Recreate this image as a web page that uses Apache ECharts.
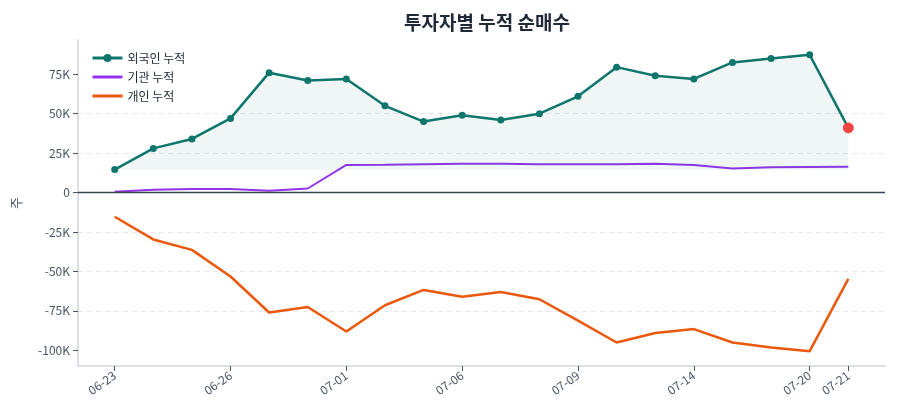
<!DOCTYPE html>
<html>
<head>
<meta charset="utf-8">
<script src="https://cdn.jsdelivr.net/npm/echarts@6/dist/echarts.min.js"></script>
<style>html,body{margin:0;padding:0;background:#fff}#c{width:900px;height:420px}</style>
</head>
<body>
<div id="c"></div>
<script>
const dates = ['06-23','06-24','06-25','06-26','06-27','06-30','07-01','07-02','07-03','07-06','07-07','07-08','07-09','07-10','07-13','07-14','07-15','07-16','07-20','07-21'];
const foreign = [14600, 28000, 34000, 47000, 76000, 71000, 72000, 55000, 45000, 49000, 46000, 50000, 61000, 79500, 74000, 72000, 82500, 85000, 87300, 41000];
const institution = [600, 1800, 2200, 2300, 1200, 2600, 17500, 17600, 18000, 18300, 18300, 18000, 18000, 17900, 18200, 17500, 15300, 16000, 16200, 16400];
const individual = [-15300, -29700, -36300, -53200, -76000, -72500, -88000, -71400, -61700, -66000, -63000, -67600, -81200, -95000, -89000, -86500, -95000, -98200, -100500, -54700];
const labelIdx = [0, 3, 6, 9, 12, 15, 18, 19];
const yTicks = [-100000, -75000, -50000, -25000, 0, 25000, 50000, 75000];
const names = ['외국인 누적', '기관 누적', '개인 누적'];

const font = '"Noto Sans CJK KR", "Noto Sans", sans-serif';
const last = foreign.length - 1;
const fData = foreign.map((v, i) => i === last
  ? { value: [i, v], symbolSize: 10, itemStyle: { color: '#ef4444', borderColor: '#ef4444' } }
  : [i, v]);
const fMin = Math.min(...foreign);

const chart = echarts.init(document.getElementById('c'), null, { renderer: 'canvas' });
chart.setOption({
  animation: false,
  textStyle: { fontFamily: font },
  title: {
    text: '투자자별 누적 순매수',
    left: 482, top: 8, textAlign: 'center',
    textStyle: { fontFamily: font, fontSize: 19, fontWeight: 'bold', color: '#1f2937' }
  },
  legend: {
    orient: 'vertical', left: 86, top: 47, itemGap: 7, itemWidth: 30, itemHeight: 10,
    data: [
      { name: names[0], lineStyle: { width: 3 } },
      { name: names[1], itemStyle: { opacity: 0 }, lineStyle: { width: 3 } },
      { name: names[2], itemStyle: { opacity: 0 }, lineStyle: { width: 3 } }
    ],
    textStyle: { fontFamily: font, fontSize: 12, color: '#1f2937' }
  },
  grid: { left: 78, right: 15, top: 40, bottom: 54 },
  xAxis: {
    type: 'value', min: -0.95, max: 19.95,
    splitLine: { show: false },
    axisLine: { show: true, onZero: false, lineStyle: { color: '#d1d5db', width: 1.5 } },
    axisTick: { show: true, customValues: labelIdx, length: 5, lineStyle: { color: '#4b5563' } },
    axisLabel: {
      customValues: labelIdx, rotate: 35, fontSize: 12, color: '#4b5563', fontFamily: font,
      formatter: v => dates[Math.round(v)] || ''
    }
  },
  yAxis: {
    type: 'value', min: -109900, max: 96700,
    minInterval: 25000, maxInterval: 25000,
    name: '주', nameLocation: 'middle', nameGap: 55, nameRotate: 90,
    nameTextStyle: { fontFamily: font, fontSize: 13, color: '#4b5563' },
    axisLine: { show: true, onZero: false, lineStyle: { color: '#d1d5db', width: 1.5 } },
    axisTick: { show: true, customValues: yTicks, length: 5, lineStyle: { color: '#4b5563' } },
    axisLabel: {
      customValues: yTicks, fontSize: 12, color: '#4b5563', fontFamily: font,
      formatter: v => v === 0 ? '0' : (v / 1000) + 'K'
    },
    splitLine: { show: true, showMinLine: false, showMaxLine: false,
      lineStyle: { color: '#e5e7eb', type: [5, 4], width: 1 } }
  },
  series: [
    {
      name: names[0], type: 'line', data: fData,
      symbol: 'circle', symbolSize: 7,
      lineStyle: { color: '#0f766e', width: 2.5 },
      itemStyle: { color: '#0f766e' },
      areaStyle: { color: 'rgba(15,118,110,0.09)', origin: fMin },
      z: 4
    },
    {
      name: names[1], type: 'line', data: institution.map((v, i) => [i, v]),
      symbol: 'none',
      lineStyle: { color: '#9333ea', width: 2 },
      itemStyle: { color: '#9333ea' },
      z: 3,
      markLine: {
        silent: true, symbol: 'none', label: { show: false },
        lineStyle: { color: '#374151', width: 1.3, type: 'solid' },
        data: [{ yAxis: 0 }]
      }
    },
    {
      name: names[2], type: 'line', data: individual.map((v, i) => [i, v]),
      symbol: 'none',
      lineStyle: { color: '#ea580c', width: 2.5 },
      itemStyle: { color: '#ea580c' },
      z: 3
    }
  ]
});
</script>
</body>
</html>
